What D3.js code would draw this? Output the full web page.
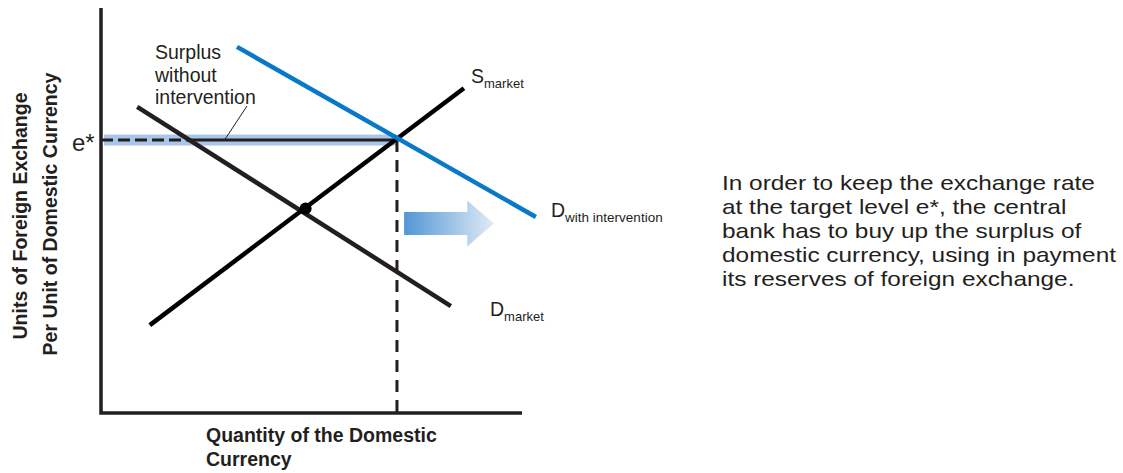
<!DOCTYPE html>
<html>
<head>
<meta charset="utf-8">
<script src="https://cdn.jsdelivr.net/npm/d3@7"></script>
<style>
  body { margin: 0; background: #fff; }
  text { font-family: "Liberation Sans", Arial, sans-serif; fill: #231f20; }
</style>
</head>
<body>
<div id="chart"></div>
<script>
// exchange rate intervention diagram
var svgWidth = 1123;
var svgHeight = 473;

// curves in (quantity, price) units, 0..100
var supplyMarket = [[11.6, 21.7], [86.2, 80.2]];
var demandMarket = [[8.6, 75.6], [83.1, 26.4]];
var demandIntervention = [[32.3, 90.4], [103.3, 48.4]];
var equilibrium = [48.6, 50.5];
var eStar = 67.4;
var qStar = 70.3;
var dashEnd = 21;           // where the e* line turns from dashed to solid
var arrowX = [72, 87, 93.3]; // body start, head start, tip
var arrowY = [46.8];
var noteLines = [
  "In order to keep the exchange rate",
  "at the target level e*, the central",
  "bank has to buy up the surplus of",
  "domestic currency, using in payment",
  "its reserves of foreign exchange."
];

var svg = d3.select("#chart")
  .append("svg")
  .attr("width", svgWidth)
  .attr("height", svgHeight);

var x = d3.scaleLinear().domain([0, 100]).range([101, 522]);
var y = d3.scaleLinear().domain([0, 100]).range([413, 8]);

var defs = svg.append("defs");
var grad = defs.append("linearGradient")
  .attr("id", "arrowGrad")
  .attr("x1", "0%").attr("x2", "100%");
grad.append("stop").attr("offset", "0%").attr("stop-color", "#5296d5");
grad.append("stop").attr("offset", "100%").attr("stop-color", "#e1ebf6");

var line = d3.line().x(d => x(d[0])).y(d => y(d[1]));

// light blue surplus band
svg.append("rect")
  .attr("x", x(0) + 3)
  .attr("y", y(eStar) - 5.5)
  .attr("width", x(qStar) - x(0) - 3)
  .attr("height", 11)
  .attr("fill", "#a9c5e7");

// e* line: dashed part then solid part
svg.append("path")
  .attr("d", line([[0, eStar], [dashEnd, eStar]]))
  .attr("stroke", "#231f20")
  .attr("stroke-width", 3)
  .attr("stroke-dasharray", "12,5")
  .attr("fill", "none");
svg.append("path")
  .attr("d", line([[dashEnd, eStar], [qStar, eStar]]))
  .attr("stroke", "#231f20")
  .attr("stroke-width", 3)
  .attr("fill", "none");

// vertical dashed line at q*
svg.append("path")
  .attr("d", line([[qStar, eStar], [qStar, 0]]))
  .attr("stroke", "#231f20")
  .attr("stroke-width", 3)
  .attr("stroke-dasharray", "12,8")
  .attr("fill", "none");

// axes
svg.append("path")
  .attr("d", line([[0, 100], [0, 0], [100, 0]]))
  .attr("stroke", "#231f20")
  .attr("stroke-width", 3.5)
  .attr("fill", "none");

// curves
svg.append("path")
  .attr("d", line(demandMarket))
  .attr("stroke", "#231f20")
  .attr("stroke-width", 4.5)
  .attr("fill", "none");
svg.append("path")
  .attr("d", line(supplyMarket))
  .attr("stroke", "#000")
  .attr("stroke-width", 4.5)
  .attr("fill", "none");
svg.append("path")
  .attr("d", line(demandIntervention))
  .attr("stroke", "#0878c8")
  .attr("stroke-width", 4.5)
  .attr("fill", "none");

svg.append("circle")
  .attr("cx", x(equilibrium[0]))
  .attr("cy", y(equilibrium[1]))
  .attr("r", 6)
  .attr("fill", "#000");

// shift arrow
var ay = y(arrowY[0]);
var ax0 = x(arrowX[0]), ax1 = x(arrowX[1]), ax2 = x(arrowX[2]);
svg.append("path")
  .attr("d", `M${ax0},${ay - 11.5}L${ax1},${ay - 11.5}L${ax1},${ay - 23}L${ax2},${ay}` +
    `L${ax1},${ay + 23}L${ax1},${ay + 11.5}L${ax0},${ay + 11.5}Z`)
  .attr("fill", "url(#arrowGrad)");

// leader line from surplus label
svg.append("line")
  .attr("x1", x(29.5)).attr("y1", y(eStar) - 1)
  .attr("x2", 247).attr("y2", 106)
  .attr("stroke", "#231f20")
  .attr("stroke-width", 1);

// labels
svg.append("text")
  .attr("x", 72).attr("y", 151)
  .attr("font-size", 24)
  .text("e*");

var surplus = svg.append("text")
  .attr("font-size", 19.5);
["Surplus", "without", "intervention"].forEach(function(t, i) {
  surplus.append("tspan").attr("x", 155).attr("y", 59 + i * 22.5).text(t);
});

function subLabel(px, py, main, sub, subSize) {
  var t = svg.append("text").attr("x", px).attr("y", py).attr("font-size", 19.5);
  t.append("tspan").text(main);
  t.append("tspan").attr("font-size", subSize).attr("dy", 5).text(sub);
}
subLabel(471, 83, "S", "market", 13);
subLabel(551, 217, "D", "with intervention", 13.5);
subLabel(490, 316, "D", "market", 13);

// axis titles
svg.append("text")
  .attr("transform", "translate(27,216) rotate(-90)")
  .attr("text-anchor", "middle")
  .attr("font-weight", "bold")
  .attr("font-size", 19.5)
  .text("Units of Foreign Exchange");
svg.append("text")
  .attr("transform", "translate(57,214) rotate(-90)")
  .attr("text-anchor", "middle")
  .attr("font-weight", "bold")
  .attr("font-size", 19.5)
  .text("Per Unit of Domestic Currency");

var xTitle = svg.append("text")
  .attr("font-weight", "bold")
  .attr("font-size", 19.5);
xTitle.append("tspan").attr("x", 206).attr("y", 442).text("Quantity of the Domestic");
xTitle.append("tspan").attr("x", 206).attr("y", 466).text("Currency");

// explanatory note (type is set wide in the original)
var note = svg.append("text")
  .attr("transform", "translate(722,0) scale(1.162,1)")
  .attr("font-size", 21);
noteLines.forEach(function(t, i) {
  note.append("tspan").attr("x", 0).attr("y", 190 + i * 24).text(t);
});
</script>
</body>
</html>
